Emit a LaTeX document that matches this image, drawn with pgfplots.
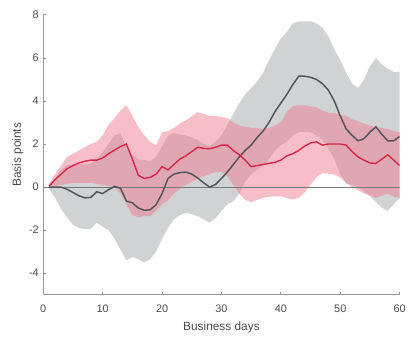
\documentclass[border=0pt]{standalone}
\usepackage{pgfplots}
\pgfplotsset{compat=1.18}
\usepackage{pgfplotstable}
\usepgfplotslibrary{fillbetween}
\usepackage{fontspec}
\setmainfont{Liberation Sans}
\setsansfont{Liberation Sans}

\definecolor{redline}{RGB}{214,38,72}
\definecolor{grayline}{RGB}{85,85,88}
\definecolor{grayband}{RGB}{208,210,212}
\definecolor{pinkband}{RGB}{240,126,146}
\definecolor{axisgray}{RGB}{150,150,150}
\definecolor{textgray}{RGB}{75,75,75}
\definecolor{zerogray}{RGB}{120,120,120}

\pgfplotstableread{
x red rl ru gray gl gu
1 0.05 0.0 0.18 0 -0.1 0.05
2 0.35 0.05 0.6 0 -0.5 0.4
3 0.6 0.1 1.0 0 -1.0 0.8
4 0.85 0.15 1.4 -0.1 -1.4 1.0
5 1.0 0.2 1.55 -0.25 -1.75 1.05
6 1.12 0.2 1.7 -0.4 -1.9 1.05
7 1.2 0.2 1.85 -0.5 -1.95 1.05
8 1.25 0.2 2.0 -0.48 -1.95 1.1
9 1.25 0.15 2.1 -0.22 -1.65 1.3
10 1.35 0.1 2.4 -0.3 -1.85 1.6
11 1.55 0.05 2.9 -0.12 -2.0 2.0
12 1.72 0.0 3.2 0.03 -2.4 2.4
13 1.88 -0.3 3.55 -0.05 -2.9 2.5
14 2.0 -0.8 3.8 -0.65 -3.4 1.9
15 1.3 -1.3 3.3 -0.73 -3.25 1.5
16 0.55 -1.4 2.8 -0.97 -3.35 1.3
17 0.4 -1.35 2.4 -1.08 -3.5 1.25
18 0.45 -1.35 2.1 -1.05 -3.35 1.2
19 0.6 -1.1 1.95 -0.82 -3.0 1.4
20 0.95 -0.8 2.55 -0.3 -2.4 1.9
21 0.8 -0.6 2.6 0.4 -1.9 2.4
22 1.05 -0.3 2.75 0.6 -1.5 2.5
23 1.3 -0.1 2.95 0.67 -1.3 2.45
24 1.45 0.1 3.1 0.7 -1.2 2.4
25 1.65 0.25 3.3 0.6 -1.25 2.3
26 1.85 0.4 3.48 0.42 -1.35 2.2
27 1.8 0.5 3.4 0.2 -1.5 2.0
28 1.78 0.6 3.3 0.0 -1.65 1.9
29 1.85 0.7 3.3 0.12 -1.45 2.1
30 1.95 0.72 3.25 0.4 -1.1 2.4
31 1.95 0.5 3.2 0.7 -0.8 2.9
32 1.7 0.1 3.0 1.05 -0.65 3.4
33 1.5 -0.3 2.85 1.4 -0.3 3.9
34 1.25 -0.6 2.8 1.7 0.25 4.3
35 0.95 -0.7 2.75 1.95 0.6 4.6
36 1.0 -0.6 2.75 2.3 0.8 4.9
37 1.05 -0.5 2.7 2.6 1.0 5.3
38 1.1 -0.45 2.75 3.0 1.3 5.9
39 1.15 -0.43 2.85 3.5 1.7 6.4
40 1.25 -0.43 3.0 3.9 1.95 6.9
41 1.45 -0.5 3.5 4.3 2.1 7.2
42 1.55 -0.58 3.75 4.75 2.4 7.6
43 1.7 -0.5 3.8 5.15 2.55 7.7
44 1.9 -0.25 3.8 5.15 2.55 7.7
45 2.05 0.1 3.75 5.1 2.55 7.7
46 2.1 0.45 3.7 5.0 2.4 7.6
47 1.95 0.65 3.55 4.8 2.2 7.4
48 2.0 0.62 3.45 4.5 1.8 7.0
49 2.0 0.58 3.45 4.0 1.3 6.4
50 2.0 0.45 3.35 3.3 0.6 5.9
51 1.95 0.2 3.3 2.7 0.15 5.3
52 1.65 0.0 3.15 2.4 0.1 4.8
53 1.4 -0.15 3.05 2.15 0.0 4.6
54 1.25 -0.3 2.95 2.25 -0.2 5.0
55 1.12 -0.4 2.85 2.55 -0.4 5.6
56 1.1 -0.5 2.8 2.8 -0.7 6.0
57 1.3 -0.4 2.75 2.45 -0.95 5.7
58 1.5 -0.3 2.7 2.15 -1.1 5.5
59 1.25 -0.45 2.6 2.15 -0.8 5.35
60 1.0 -0.5 2.55 2.35 -0.5 5.35
}\data

\begin{document}
\begin{tikzpicture}
\begin{axis}[
  at={(43.7pt,38.3pt)}, anchor=south west,
  scale only axis, width=360pt, height=282.7pt,
  xmin=0, xmax=60, ymin=-5, ymax=8,
  xtick={0,10,...,60}, ytick={-4,-2,...,8},
  axis x line*=bottom, axis y line*=left,
  axis line style={draw=axisgray, line width=0.8pt},
  tick align=inside, major tick length=3pt,
  tick style={draw=axisgray, line width=0.8pt},
  ticklabel style={font=\fontsize{11}{13}\selectfont, text=textgray},
  xticklabel style={yshift=-7pt},
  yticklabel style={xshift=-1pt},
  /pgf/number format/assume math mode=true,
  xlabel={Business days}, ylabel={Basis points},
  label style={font=\fontsize{12}{14}\selectfont, text=textgray},
  xlabel style={at={(axis description cs:0.5,0)}, anchor=center, yshift=-33pt},
  ylabel style={at={(axis description cs:0,0.5)}, anchor=center, yshift=25.7pt},
]
\addplot[draw=none, name path=gu, forget plot] table[x=x, y=gu]{\data};
\addplot[draw=none, name path=gl, forget plot] table[x=x, y=gl]{\data};
\addplot[draw=none, name path=ru, forget plot] table[x=x, y=ru]{\data};
\addplot[draw=none, name path=rl, forget plot] table[x=x, y=rl]{\data};
\addplot[fill=grayband, draw=none] fill between[of=gu and gl];
\addplot[fill=pinkband, fill opacity=0.5, draw=none] fill between[of=ru and rl];
\addplot[zerogray, line width=0.6pt] coordinates {(0,0) (60,0)};
\addplot[grayline, line width=1.5pt] table[x=x, y=gray]{\data};
\addplot[redline, line width=1.4pt] table[x=x, y=red]{\data};
\end{axis}
\path (0,0) rectangle (409pt,336pt);
\end{tikzpicture}
\end{document}
